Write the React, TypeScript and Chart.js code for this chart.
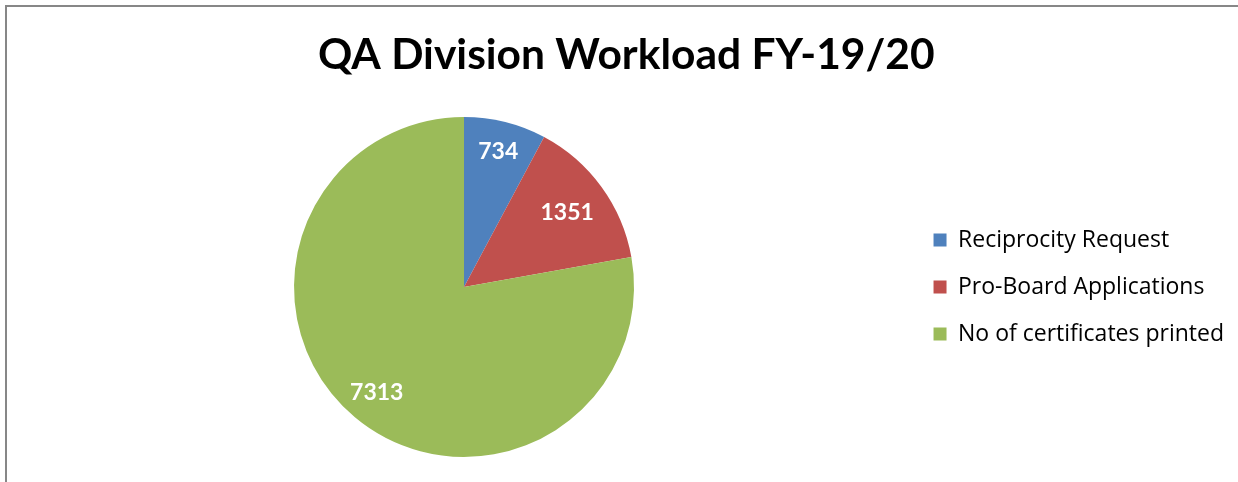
import React, { useEffect, useRef } from "react";
import { Chart, registerables } from "chart.js";

Chart.register(...registerables);

const categories = ["Reciprocity Request", "Pro-Board Applications", "No of certificates printed"];
const values = [734, 1351, 7313];
const colors = ["#4F81BD", "#C0504D", "#9BBB59"];
const titleText = "QA Division Workload FY-19/20";
const labelRadii = [0.83, 0.75, 0.8];

const TITLE_FONT = "Lato, 'Open Sans', sans-serif";
const TEXT_FONT = "'Open Sans', Lato, sans-serif";

const sliceLabels = {
  id: "sliceLabels",
  afterDatasetsDraw(chart: any) {
    const { ctx } = chart;
    const meta = chart.getDatasetMeta(0);
    ctx.save();
    ctx.fillStyle = "#ffffff";
    ctx.font = `bold 23px ${TITLE_FONT}`;
    ctx.textAlign = "center";
    ctx.textBaseline = "middle";
    meta.data.forEach((arc: any, i: number) => {
      const { x, y, startAngle, endAngle, outerRadius } = arc.getProps(
        ["x", "y", "startAngle", "endAngle", "outerRadius"],
        true
      );
      const mid = (startAngle + endAngle) / 2;
      const r = outerRadius * labelRadii[i];
      ctx.fillText(String(values[i]), x + Math.cos(mid) * r, y + Math.sin(mid) * r + 1);
    });
    ctx.restore();
  },
};

export default function App() {
  const ref = useRef<HTMLCanvasElement | null>(null);

  useEffect(() => {
    if (!ref.current) return;
    const chart = new Chart(ref.current, {
      type: "pie",
      data: {
        labels: categories,
        datasets: [
          {
            data: values,
            backgroundColor: colors,
            borderWidth: 0,
          },
        ],
      },
      options: {
        animation: false,
        responsive: false,
        maintainAspectRatio: false,
        layout: { padding: { left: 11.5, right: 4, top: 0, bottom: 25 } },
        plugins: {
          title: {
            display: true,
            text: titleText,
            color: "#000000",
            font: { family: TITLE_FONT, size: 42.5, weight: "bold" },
            padding: { top: 23, bottom: 36 },
          },
          legend: {
            position: "right",
            align: "center",
            fullSize: false,
            labels: {
              color: "#000000",
              font: { family: TEXT_FONT, size: 23 },
              boxWidth: 13,
              boxHeight: 13,
              padding: 24,
            },
          },
          tooltip: { enabled: false },
        },
      },
      plugins: [sliceLabels],
    });
    return () => chart.destroy();
  }, []);

  return (
    <div
      style={{
        position: "absolute",
        left: 0,
        top: 0,
        width: 1238,
        height: 482,
        overflow: "hidden",
        background: "#ffffff",
      }}
    >
      <div
        style={{
          position: "absolute",
          left: 5,
          top: 5,
          width: 1300,
          height: 600,
          borderLeft: "2px solid #878787",
          borderTop: "2px solid #878787",
        }}
      />
      <canvas
        ref={ref}
        width={1231}
        height={475}
        style={{ position: "absolute", left: 7, top: 7, width: 1231, height: 475 }}
      />
    </div>
  );
}
